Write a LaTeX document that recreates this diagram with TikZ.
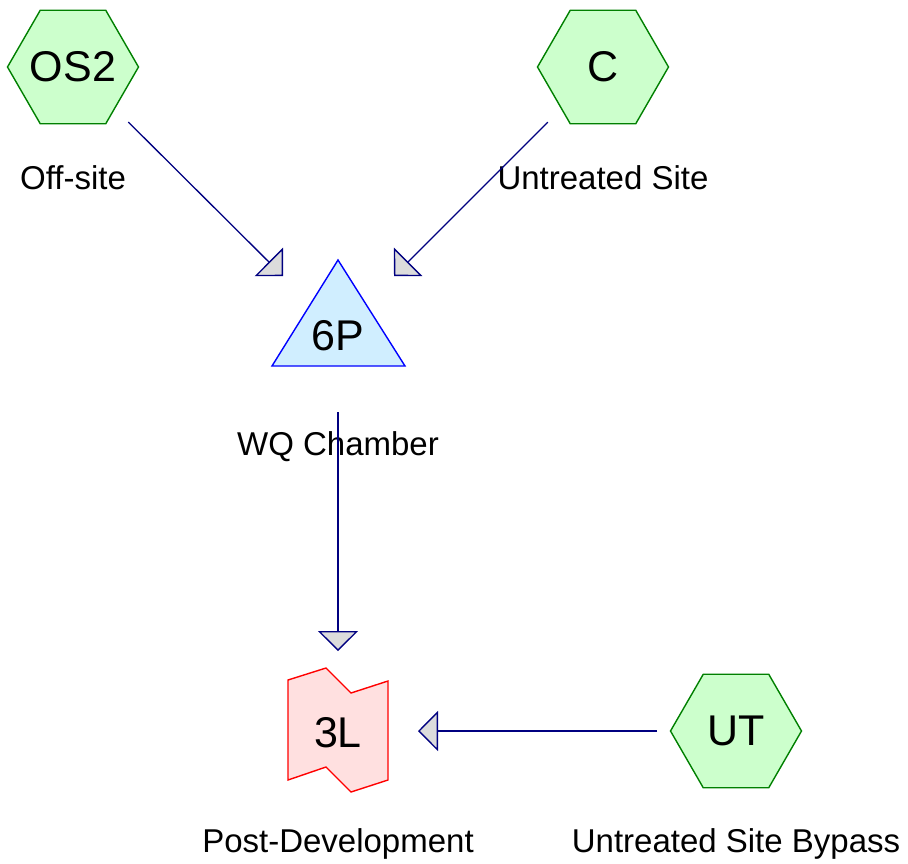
\documentclass[tikz,border=0pt]{standalone}
\usepackage{fontspec}
\setmainfont{Liberation Sans}
\usetikzlibrary{shapes.geometric,arrows.meta}
\definecolor{linec}{RGB}{0,0,128}
\definecolor{hexfill}{RGB}{204,255,204}
\definecolor{hexdraw}{RGB}{0,128,0}
\definecolor{trifill}{RGB}{208,238,255}
\definecolor{tridraw}{RGB}{0,0,255}
\definecolor{lfill}{RGB}{255,224,224}
\definecolor{ldraw}{RGB}{255,0,0}
\definecolor{tipfill}{RGB}{220,220,220}
\newcommand{\hextxt}[1]{\makebox[0pt]{\raisebox{-3pt}{#1}}}
\begin{document}
\begin{tikzpicture}[x=1pt,y=-1pt,
  hexnode/.style={regular polygon, regular polygon sides=6, minimum size=131pt,
    inner sep=0pt, outer sep=0pt, draw=hexdraw, fill=hexfill, line width=1.4pt,
    font=\fontsize{43}{50}\selectfont},
  bigtext/.style={inner sep=0pt, anchor=base, font=\fontsize{43}{50}\selectfont},
  lbl/.style={inner sep=0pt, anchor=base, font=\fontsize{33}{38}\selectfont},
  tri/.style={draw=tridraw, fill=trifill, line width=1.4pt, line join=miter},
  lshape/.style={draw=ldraw, fill=lfill, line width=1.4pt, line join=miter},
  flow/.style={draw=linec, line width=1.3pt,
    -{Triangle[length=20pt,width=40pt,fill=tipfill]}}
]
\useasboundingbox (0,0) rectangle (908,863);

% nodes
\node[hexnode] (os2) at (73,67) {\hextxt{OS2}};
\node[hexnode] (c) at (603,67) {\hextxt{C}};
\node[hexnode] (ut) at (736,731) {\hextxt{UT}};

\filldraw[tri] (338,260) -- (405,366) -- (272,366) -- cycle;
\node[bigtext] (p6) at (338,350) {6P};

\filldraw[lshape] (288,680) -- (326,668) -- (351,693) -- (388,681) -- (388,780)
  -- (351,792) -- (326,767) -- (288,780) -- cycle;
\node[bigtext] (l3) at (338,747) {3L};

% labels
\node[lbl] (lbos2) at (73,189) {Off-site};
\node[lbl] (lbc) at (603,189) {Untreated Site};
\node[lbl] (lbp6) at (338,455) {WQ Chamber};
\node[lbl] (lbl3) at (338,852) {Post-Development};
\node[lbl] (lbut) at (736,852) {Untreated Site Bypass};

% arrow tips
\coordinate (tA) at (283,276);
\coordinate (tB) at (394,276);
\coordinate (tC) at (338,651);
\coordinate (tD) at (418,731);

% connectors
\draw[flow, shorten <=78pt] (os2.center) -- (tA);
\draw[flow, shorten <=78pt] (c.center) -- (tB);
\draw[flow, shorten <=62pt] (p6.base) -- (tC);
\draw[flow, shorten <=79pt] (ut.center) -- (tD);
\end{tikzpicture}
\end{document}
